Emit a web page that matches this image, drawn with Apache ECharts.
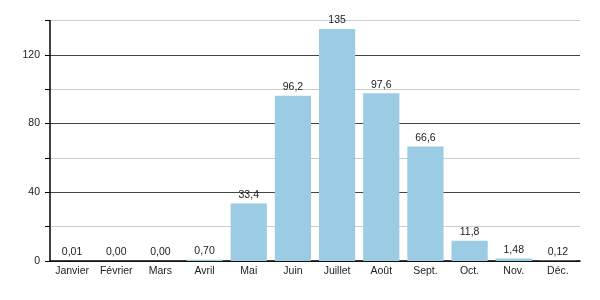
<!DOCTYPE html>
<html><head><meta charset="utf-8">
<script src="https://cdn.jsdelivr.net/npm/echarts@6/dist/echarts.min.js"></script>
<style>html,body{margin:0;padding:0;background:#fff}#c{width:600px;height:300px}</style>
</head><body><div id="c"></div>
<script>
const categories = ['Janvier','Février','Mars','Avril','Mai','Juin','Juillet','Août','Sept.','Oct.','Nov.','Déc.'];
const values = [0.01, 0.00, 0.00, 0.70, 33.4, 96.2, 135, 97.6, 66.6, 11.8, 1.48, 0.12];
const valueLabels = ['0,01','0,00','0,00','0,70','33,4','96,2','135','97,6','66,6','11,8','1,48','0,12'];
const yTicks = [0, 40, 80, 120];

const chart = echarts.init(document.getElementById('c'));
chart.setOption({
  animation: false,
  textStyle: {fontFamily: 'Liberation Sans, Arial, sans-serif'},
  grid: {left: 50, right: 20, top: 20.5, bottom: 39},
  xAxis: {
    type: 'category', data: categories,
    axisLine: {lineStyle: {color: '#000', width: 1.5}},
    axisTick: {show: false},
    axisLabel: {color: '#222', fontSize: 10.5, margin: 5, interval: 0}
  },
  yAxis: {
    type: 'value', min: 0, max: 140, interval: 20,
    axisLine: {show: true, lineStyle: {color: '#000', width: 1.5}},
    axisTick: {show: true, length: 5, lineStyle: {color: '#000'}},
    axisLabel: {color: '#222', fontSize: 10.5, margin: 10,
      formatter: v => yTicks.includes(v) ? String(v) : ''},
    splitLine: {show: true, lineStyle: {color: ['#444', '#ccc'], width: 1}}
  },
  series: [{
    type: 'bar', data: values, barCategoryGap: '18%',
    itemStyle: {color: '#9ccbe4'},
    label: {show: true, position: 'top', distance: 3, color: '#222', fontSize: 10.5,
      formatter: p => valueLabels[p.dataIndex]}
  }]
});
</script></body></html>
